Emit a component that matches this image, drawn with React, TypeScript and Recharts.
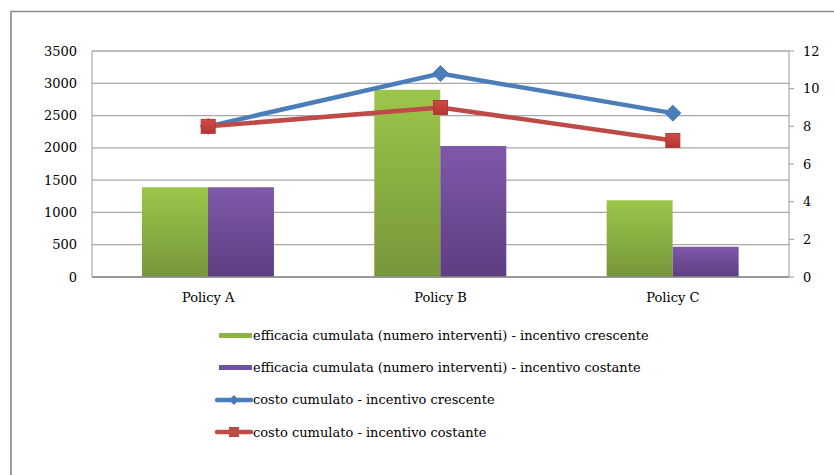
import React from 'react';
import { ComposedChart, Bar, Line, XAxis, YAxis, CartesianGrid } from 'recharts';

const policies = ['Policy A', 'Policy B', 'Policy C'];
const efficaciaCrescente = [1390, 2900, 1190];
const efficaciaCostante = [1390, 2030, 470];
const costoCrescente = [8, 10.8, 8.7];
const costoCostante = [8, 9, 7.25];

const leftTicks = [0, 500, 1000, 1500, 2000, 2500, 3000, 3500];
const rightTicks = [0, 2, 4, 6, 8, 10, 12];

const seriesNames = [
  'efficacia cumulata (numero interventi) - incentivo crescente',
  'efficacia cumulata (numero interventi) - incentivo costante',
  'costo cumulato - incentivo crescente',
  'costo cumulato - incentivo costante',
];

const data = policies.map((policy, i) => ({
  policy,
  effCresc: efficaciaCrescente[i],
  effCost: efficaciaCostante[i],
  costCresc: costoCrescente[i],
  costCost: costoCostante[i],
}));

const FONT = 'DejaVu Serif';
const FS = 13;
const BLUE = '#4a7ebb';
const RED = '#be4b48';

const Diamond = (props: any) => {
  const { cx, cy } = props;
  if (cx == null || cy == null) return null;
  const r = 8;
  return (
    <path
      d={`M${cx},${cy - r} L${cx + r},${cy} L${cx},${cy + r} L${cx - r},${cy} Z`}
      fill={BLUE}
      stroke={BLUE}
      strokeWidth={1}
    />
  );
};

const Square = (props: any) => {
  const { cx, cy } = props;
  if (cx == null || cy == null) return null;
  const s = 7;
  return (
    <rect x={cx - s} y={cy - s} width={s * 2} height={s * 2} fill="url(#redSq)" stroke="#b03a37" strokeWidth={1} />
  );
};

const LegendIcon = ({ kind }: { kind: number }) => {
  if (kind === 0 || kind === 1) {
    const fill = kind === 0 ? '#8db343' : '#7051a0';
    return (
      <svg width={38} height={12} style={{ display: 'block' }}>
        <rect x={4} y={4} width={33} height={5} fill={fill} />
      </svg>
    );
  }
  const color = kind === 2 ? BLUE : RED;
  return (
    <svg width={38} height={12} style={{ display: 'block' }}>
      <line x1={2} y1={6} x2={36} y2={6} stroke={color} strokeWidth={4.5} strokeLinecap="round" />
      {kind === 2 ? (
        <path d="M19,1 L24,6 L19,11 L14,6 Z" fill={color} />
      ) : (
        <rect x={14} y={1} width={10} height={10} fill={color} />
      )}
    </svg>
  );
};

export default function App() {
  return (
    <div
      style={{
        position: 'fixed',
        left: 0,
        top: 0,
        width: 834,
        height: 475,
        overflow: 'hidden',
        background: '#fff',
      }}
    >
      {/* outer chart frame: only the top and left edges fall inside the page */}
      <svg width={834} height={475} style={{ position: 'absolute', left: 0, top: 0 }}>
        <path d="M11,475 V11.5 H834" fill="none" stroke="#8a8a8a" strokeWidth={1.6} />
      </svg>
      <div style={{ position: 'absolute', left: 0, top: 0 }}>
        <ComposedChart
          width={834}
          height={475}
          data={data}
          margin={{ top: 51, right: 0, bottom: 168, left: 0 }}
          barCategoryGap="21.5%"
          barGap={0}
        >
          <defs>
            <linearGradient id="greenBar" x1="0" y1="0" x2="0" y2="1">
              <stop offset="0%" stopColor="#9cc64a" />
              <stop offset="100%" stopColor="#76963a" />
            </linearGradient>
            <linearGradient id="purpleBar" x1="0" y1="0" x2="0" y2="1">
              <stop offset="0%" stopColor="#7f58aa" />
              <stop offset="100%" stopColor="#5d3e80" />
            </linearGradient>
            <linearGradient id="redSq" x1="0" y1="0" x2="0" y2="1">
              <stop offset="0%" stopColor="#d24a46" />
              <stop offset="100%" stopColor="#b23532" />
            </linearGradient>
          </defs>
          <CartesianGrid yAxisId="left" vertical={false} stroke="#a8a8a8" strokeWidth={1.3} />
          <XAxis
            dataKey="policy"
            height={30}
            tickLine={false}
            axisLine={{ stroke: '#8c8c8c', strokeWidth: 1.5 }}
            tick={{ fill: '#000', fontFamily: FONT, fontSize: FS }}
            tickMargin={10}
          />
          <YAxis
            yAxisId="left"
            width={92}
            domain={[0, 3500]}
            ticks={leftTicks}
            interval={0}
            axisLine={{ stroke: '#9a9a9a' }}
            tickLine={false}
            tickSize={0}
            tickMargin={15}
            tick={{ fill: '#000', fontFamily: FONT, fontSize: FS }}
          />
          <YAxis
            yAxisId="right"
            orientation="right"
            width={45}
            domain={[0, 12]}
            ticks={rightTicks}
            interval={0}
            axisLine={{ stroke: '#9a9a9a' }}
            tickLine={{ stroke: '#9a9a9a' }}
            tickSize={5}
            tickMargin={9}
            tick={{ fill: '#000', fontFamily: FONT, fontSize: FS }}
          />
          <Bar yAxisId="left" dataKey="effCresc" name={seriesNames[0]} fill="url(#greenBar)" isAnimationActive={false} />
          <Bar yAxisId="left" dataKey="effCost" name={seriesNames[1]} fill="url(#purpleBar)" isAnimationActive={false} />
          <Line
            yAxisId="right"
            dataKey="costCresc"
            name={seriesNames[2]}
            stroke={BLUE}
            strokeWidth={4.5}
            dot={<Diamond />}
            activeDot={false}
            isAnimationActive={false}
          />
          <Line
            yAxisId="right"
            dataKey="costCost"
            name={seriesNames[3]}
            stroke={RED}
            strokeWidth={4.5}
            dot={<Square />}
            activeDot={false}
            isAnimationActive={false}
          />
        </ComposedChart>
      </div>
      <div style={{ position: 'absolute', left: 215, top: 319, fontFamily: FONT, fontSize: FS, color: '#000' }}>
        {seriesNames.map((name, i) => (
          <div key={name} style={{ display: 'flex', alignItems: 'center', height: 32.3 }}>
            <LegendIcon kind={i} />
            <span>{name}</span>
          </div>
        ))}
      </div>
    </div>
  );
}
